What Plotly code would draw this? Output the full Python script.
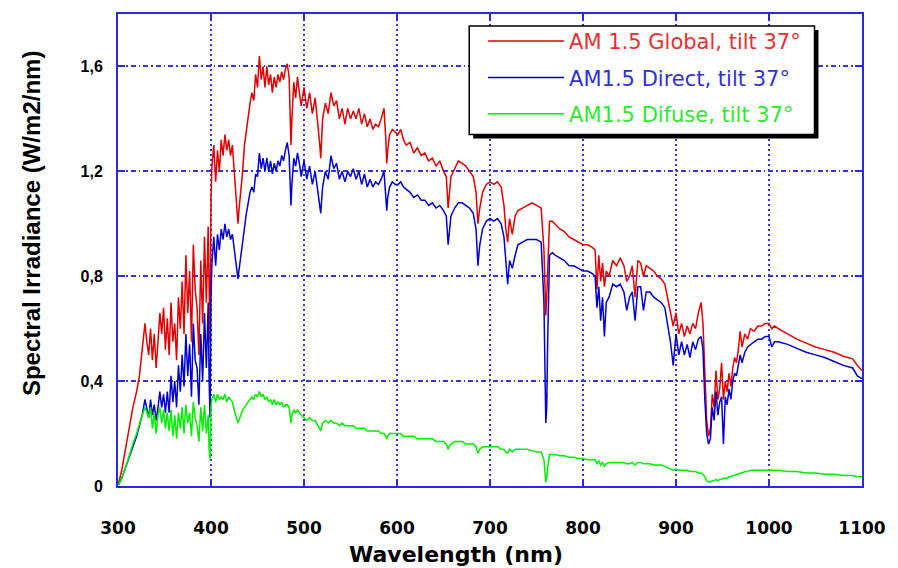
import plotly.graph_objects as go

# Wavelength grid (nm) shared by the three spectra
wavelength = [
    300, 304, 308, 312, 316, 320, 323, 326, 329, 331,
    333, 335, 337, 339, 341, 343, 345, 347, 349, 351,
    353, 355, 357, 359, 361, 363, 365, 367, 369, 371,
    373, 375, 377, 379, 381, 383, 385, 387, 389, 391,
    393, 395, 397, 398, 399, 400,
    401, 403, 405, 407, 409, 411, 413, 415, 417, 419,
    421, 423, 425, 427, 429, 430, 432, 434, 436, 438,
    440, 442, 444, 446, 448, 450, 452, 454, 456, 458,
    460, 462, 464, 466, 468, 470, 472, 474, 476, 478,
    480, 482, 484, 485, 486, 487, 489, 491, 493, 495,
    497, 500, 503, 506, 509, 512, 515, 517, 518, 520,
    523, 526, 529, 532, 535, 538, 541, 544, 547, 550,
    553, 556, 559, 562, 565, 568, 571, 574, 577, 580,
    583, 586, 588, 589, 590, 592, 595, 598,
    601, 604, 607, 610, 614, 618, 622, 626, 630, 634,
    638, 642, 646, 650, 653, 655, 656, 658, 662, 666,
    670, 674, 678, 682, 685, 687, 689, 692, 696, 700,
    704, 708, 712, 715, 717, 719, 721, 724, 727, 730,
    735, 740, 745, 750, 755, 758, 760, 761, 762, 764,
    767, 770, 775, 780, 785, 790, 795, 800, 805, 810,
    813, 815, 817, 819, 821, 823, 825, 828, 832, 836,
    840, 844, 847, 850, 853, 856, 859, 862, 865, 868,
    872, 876, 880, 884, 888, 891, 894, 897, 900, 903,
    906, 909, 912, 915, 918, 921, 924, 927, 929, 931,
    933, 935, 937, 939, 941, 943, 945, 947, 949, 951,
    953, 955, 957, 959, 961, 963, 965, 967, 969, 971,
    974, 977, 980, 984, 988, 992, 996, 1000, 1003, 1006,
    1010, 1020, 1030, 1040, 1050, 1060, 1070, 1080, 1090, 1095, 1100,
]

# AM1.5 global irradiance, tilt 37 deg (W/m2/nm)
global_irr = [
    0.00, 0.06, 0.14, 0.22, 0.30, 0.36, 0.42, 0.52, 0.62, 0.55,
    0.50, 0.60, 0.48, 0.58, 0.45, 0.55, 0.66, 0.58, 0.68, 0.52,
    0.64, 0.50, 0.70, 0.55, 0.62, 0.48, 0.72, 0.60, 0.78, 0.58,
    0.88, 0.66, 0.82, 0.55, 0.92, 0.75, 0.68, 0.50, 0.86, 0.62,
    0.95, 0.70, 0.99, 0.75, 0.55, 1.10,
    1.22, 1.30, 1.16, 1.28, 1.20, 1.32, 1.26, 1.34, 1.28, 1.32,
    1.26, 1.30, 1.20, 1.12, 1.00, 1.05, 1.12, 1.20, 1.30, 1.36,
    1.42, 1.46, 1.50, 1.47, 1.57, 1.52, 1.64, 1.55, 1.60, 1.52,
    1.60, 1.53, 1.57, 1.50, 1.56, 1.52, 1.57, 1.54, 1.58, 1.55,
    1.59, 1.61, 1.56, 1.42, 1.30, 1.40, 1.54, 1.48, 1.56, 1.50,
    1.45, 1.52, 1.44, 1.50, 1.42, 1.48, 1.38, 1.30, 1.25, 1.40,
    1.46, 1.42, 1.50, 1.45, 1.47, 1.40, 1.44, 1.38, 1.44, 1.40,
    1.43, 1.40, 1.44, 1.38, 1.42, 1.37, 1.40, 1.36, 1.38, 1.37,
    1.40, 1.44, 1.32, 1.23, 1.28, 1.34, 1.36, 1.35,
    1.34, 1.36, 1.32, 1.30, 1.31, 1.27, 1.29, 1.26, 1.27, 1.24,
    1.25, 1.22, 1.24, 1.20, 1.18, 1.06, 1.10, 1.18, 1.21, 1.24,
    1.23, 1.22, 1.20, 1.18, 1.12, 1.00, 1.06, 1.12, 1.15, 1.16,
    1.15, 1.16, 1.14, 1.07, 0.98, 0.93, 1.02, 0.96, 1.03, 1.05,
    1.06, 1.07, 1.08, 1.07, 1.06, 0.90, 0.65, 0.72, 0.85, 1.01,
    1.01, 1.00, 0.98, 0.97, 0.95, 0.94, 0.93, 0.92, 0.92, 0.91,
    0.90, 0.75, 0.88, 0.78, 0.85, 0.76, 0.82, 0.80, 0.86, 0.84,
    0.87, 0.84, 0.78, 0.80, 0.84, 0.72, 0.86, 0.85, 0.80, 0.84,
    0.83, 0.82, 0.80, 0.79, 0.77, 0.72, 0.66, 0.61, 0.66, 0.58,
    0.62, 0.57, 0.61, 0.58, 0.62, 0.60, 0.66, 0.70, 0.62, 0.45,
    0.25, 0.19, 0.22, 0.35, 0.30, 0.44, 0.33, 0.37, 0.47, 0.33,
    0.40, 0.36, 0.43, 0.38, 0.45, 0.49, 0.47, 0.52, 0.59, 0.53,
    0.58, 0.56, 0.60, 0.59, 0.61, 0.61, 0.62, 0.62, 0.60, 0.61,
    0.60, 0.58, 0.56, 0.545, 0.53, 0.52, 0.51, 0.495, 0.485, 0.46, 0.44,
]

# AM1.5 direct irradiance, tilt 37 deg (W/m2/nm)
direct_irr = [
    0.00, 0.03, 0.07, 0.11, 0.15, 0.19, 0.23, 0.27, 0.33, 0.30,
    0.26, 0.33, 0.27, 0.31, 0.25, 0.30, 0.36, 0.30, 0.35, 0.28,
    0.36, 0.28, 0.42, 0.32, 0.40, 0.30, 0.46, 0.36, 0.50, 0.38,
    0.58, 0.42, 0.54, 0.34, 0.62, 0.48, 0.45, 0.31, 0.58, 0.40,
    0.66, 0.45, 0.70, 0.40, 0.26, 0.72,
    0.85, 0.95, 0.84, 0.96, 0.90, 0.98, 0.94, 1.00, 0.95, 0.98,
    0.94, 0.96, 0.90, 0.84, 0.79, 0.82, 0.88, 0.94, 1.00, 1.04,
    1.08, 1.12, 1.14, 1.12, 1.19, 1.18, 1.27, 1.21, 1.25, 1.20,
    1.25, 1.20, 1.24, 1.19, 1.23, 1.20, 1.24, 1.22, 1.26, 1.24,
    1.28, 1.31, 1.26, 1.16, 1.07, 1.15, 1.25, 1.22, 1.27, 1.23,
    1.18, 1.24, 1.17, 1.22, 1.15, 1.20, 1.12, 1.08, 1.04, 1.14,
    1.20, 1.17, 1.26, 1.21, 1.23, 1.17, 1.20, 1.16, 1.20, 1.18,
    1.21, 1.17, 1.20, 1.15, 1.19, 1.14, 1.17, 1.14, 1.16, 1.15,
    1.17, 1.20, 1.12, 1.05, 1.10, 1.14, 1.16, 1.15,
    1.15, 1.16, 1.14, 1.13, 1.12, 1.10, 1.11, 1.09, 1.09, 1.07,
    1.08, 1.06, 1.07, 1.05, 1.03, 0.92, 0.97, 1.03, 1.06, 1.08,
    1.08, 1.07, 1.06, 1.04, 0.98, 0.84, 0.92, 0.98, 1.01, 1.02,
    1.01, 1.02, 1.00, 0.95, 0.85, 0.77, 0.86, 0.83, 0.88, 0.92,
    0.93, 0.94, 0.94, 0.94, 0.93, 0.70, 0.24, 0.30, 0.55, 0.88,
    0.89, 0.88, 0.87, 0.86, 0.84, 0.84, 0.83, 0.82, 0.82, 0.81,
    0.80, 0.68, 0.76, 0.63, 0.72, 0.57, 0.70, 0.72, 0.77, 0.76,
    0.77, 0.74, 0.67, 0.72, 0.74, 0.63, 0.76, 0.76, 0.67, 0.74,
    0.74, 0.72, 0.71, 0.70, 0.68, 0.62, 0.55, 0.46, 0.58, 0.50,
    0.55, 0.50, 0.54, 0.49, 0.55, 0.52, 0.56, 0.57, 0.52, 0.33,
    0.20, 0.16, 0.18, 0.30, 0.25, 0.36, 0.27, 0.32, 0.34, 0.16,
    0.34, 0.31, 0.37, 0.33, 0.40, 0.43, 0.42, 0.46, 0.50, 0.47,
    0.51, 0.53, 0.54, 0.55, 0.56, 0.56, 0.57, 0.57, 0.53, 0.55,
    0.55, 0.54, 0.525, 0.51, 0.50, 0.49, 0.475, 0.46, 0.45, 0.42, 0.41,
]

# AM1.5 diffuse irradiance, tilt 37 deg (W/m2/nm)
diffuse_irr = [
    0.00, 0.03, 0.07, 0.12, 0.16, 0.20, 0.24, 0.27, 0.30, 0.28,
    0.26, 0.30, 0.22, 0.28, 0.20, 0.27, 0.30, 0.24, 0.29, 0.22,
    0.28, 0.21, 0.29, 0.19, 0.27, 0.18, 0.28, 0.22, 0.30, 0.20,
    0.31, 0.24, 0.28, 0.19, 0.32, 0.26, 0.23, 0.17, 0.30, 0.21,
    0.31, 0.20, 0.27, 0.14, 0.10, 0.30,
    0.33, 0.35, 0.32, 0.35, 0.33, 0.34, 0.33, 0.35, 0.32, 0.34,
    0.33, 0.32, 0.29, 0.26, 0.24, 0.25, 0.27, 0.29, 0.30, 0.31,
    0.32, 0.33, 0.34, 0.33, 0.35, 0.34, 0.36, 0.34, 0.35, 0.33,
    0.34, 0.32, 0.33, 0.31, 0.33, 0.31, 0.32, 0.31, 0.32, 0.30,
    0.31, 0.31, 0.30, 0.27, 0.24, 0.27, 0.29, 0.28, 0.29, 0.28,
    0.27, 0.26, 0.25, 0.26, 0.25, 0.25, 0.23, 0.22, 0.21, 0.24,
    0.25, 0.24, 0.25, 0.24, 0.24, 0.23, 0.24, 0.23, 0.23, 0.23,
    0.23, 0.22, 0.22, 0.22, 0.22, 0.21, 0.21, 0.21, 0.21, 0.21,
    0.20, 0.20, 0.19, 0.18, 0.19, 0.20, 0.20, 0.20,
    0.20, 0.20, 0.19, 0.19, 0.19, 0.19, 0.18, 0.18, 0.18, 0.18,
    0.18, 0.17, 0.17, 0.17, 0.16, 0.14, 0.15, 0.16, 0.17, 0.17,
    0.17, 0.16, 0.16, 0.16, 0.15, 0.125, 0.14, 0.15, 0.15, 0.15,
    0.15, 0.15, 0.14, 0.14, 0.13, 0.125, 0.14, 0.13, 0.14, 0.14,
    0.14, 0.14, 0.135, 0.13, 0.13, 0.10, 0.015, 0.03, 0.07, 0.12,
    0.12, 0.12, 0.115, 0.115, 0.11, 0.11, 0.105, 0.105, 0.10, 0.10,
    0.10, 0.085, 0.095, 0.08, 0.09, 0.075, 0.085, 0.09, 0.09, 0.09,
    0.09, 0.09, 0.085, 0.085, 0.09, 0.08, 0.09, 0.09, 0.085, 0.085,
    0.085, 0.08, 0.08, 0.08, 0.075, 0.07, 0.065, 0.06, 0.065, 0.06,
    0.06, 0.06, 0.06, 0.055, 0.055, 0.055, 0.05, 0.05, 0.045, 0.035,
    0.02, 0.015, 0.015, 0.02, 0.02, 0.025, 0.02, 0.025, 0.025, 0.03,
    0.03, 0.03, 0.035, 0.035, 0.04, 0.04, 0.045, 0.045, 0.05, 0.05,
    0.055, 0.055, 0.06, 0.06, 0.06, 0.06, 0.06, 0.06, 0.06, 0.06,
    0.06, 0.055, 0.055, 0.05, 0.05, 0.045, 0.045, 0.04, 0.04, 0.035, 0.035,
]

assert len(wavelength) == len(global_irr) == len(direct_irr) == len(diffuse_irr)

series_names = [
    "AM 1.5 Global, tilt 37°",
    "AM1.5 Direct, tilt 37°",
    "AM1.5 Difuse, tilt 37°",
]
series_colors = ["#e00000", "#0000d0", "#00ee00"]
legend_text_colors = ["#e83030", "#3030d8", "#30e830"]

x_ticks = [300, 400, 500, 600, 700, 800, 900, 1000, 1100]
y_ticks = [0, 0.4, 0.8, 1.2, 1.6]
y_tick_labels = ["0", "0,4", "0,8", "1,2", "1,6"]

AXIS_BLUE = "#2a2ae6"
GRID_BLUE = "#3434e0"

fig = go.Figure()
for i, (vals, name) in enumerate(zip([global_irr, direct_irr, diffuse_irr], series_names)):
    fig.add_trace(go.Scatter(
        x=wavelength, y=vals, mode="lines",
        line=dict(color=series_colors[i], width=1.5),
        name=f"<span style='color:{legend_text_colors[i]}'>{name}</span>",
        legendgroup=f"g{i}",
    ))

# plot area in pixels
W, H = 898, 568
L, R, T, B = 118, 28, 12, 82
pw, ph = W - L - R, H - T - B


def px_x(x):
    return (x - L) / pw


def px_y(y):
    return (H - B - y) / ph


fig.update_layout(
    width=W, height=H,
    margin=dict(l=L, r=R, t=T, b=B),
    paper_bgcolor="white", plot_bgcolor="white",
    showlegend=True,
    legend=dict(
        x=px_x(487), y=px_y(19), xanchor="left", yanchor="top",
        bgcolor="rgba(0,0,0,0)", borderwidth=0,
        font=dict(family="DejaVu Sans", size=21, color="black"),
        itemwidth=76, traceorder="grouped", tracegroupgap=6,
    ),
    xaxis=dict(
        range=[300, 1100], tickvals=x_ticks,
        showgrid=True, gridcolor=GRID_BLUE, gridwidth=1.5, griddash="1.5px,3.5px",
        showline=True, linecolor=AXIS_BLUE, linewidth=2, mirror="ticks",
        ticks="inside", ticklen=7, tickwidth=2, tickcolor=AXIS_BLUE,
        tickfont=dict(family="DejaVu Sans", size=17, color="black", weight="bold"),
        ticklabelstandoff=26, zeroline=False,
    ),
    yaxis=dict(
        range=[0, 1.8], tickvals=y_ticks, ticktext=y_tick_labels,
        showgrid=True, gridcolor=GRID_BLUE, gridwidth=1.5, griddash="5px,3px,1.5px,3px",
        showline=True, linecolor=AXIS_BLUE, linewidth=2, mirror="ticks",
        ticks="inside", ticklen=7, tickwidth=2, tickcolor=AXIS_BLUE,
        tickfont=dict(family="Liberation Sans Narrow, Liberation Sans", size=16, color="black", weight="bold"),
        ticklabelstandoff=10, zeroline=False,
    ),
    annotations=[
        dict(text="Spectral Irradiance (W/m2/nm)", xref="paper", yref="paper",
             x=px_x(30), y=px_y(222), xanchor="center", yanchor="middle",
             textangle=-90, showarrow=False,
             font=dict(family="Liberation Sans Narrow, Liberation Sans", size=24, color="black", weight="bold")),
        dict(text="Wavelength (nm)", xref="paper", yref="paper",
             x=px_x(460), y=px_y(555), xanchor="center", yanchor="middle",
             showarrow=False,
             font=dict(family="DejaVu Sans", size=22, color="black", weight="bold")),
    ],
    shapes=[
        # drop shadow and frame of the legend box
        dict(type="rect", xref="paper", yref="paper",
             x0=px_x(477), x1=px_x(826), y0=px_y(28), y1=px_y(137),
             fillcolor="black", line=dict(width=0), layer="above"),
        dict(type="rect", xref="paper", yref="paper",
             x0=px_x(473), x1=px_x(822), y0=px_y(24), y1=px_y(133),
             fillcolor="white", line=dict(color="black", width=1.5), layer="above"),
    ],
)

fig.write_html("out.html")
